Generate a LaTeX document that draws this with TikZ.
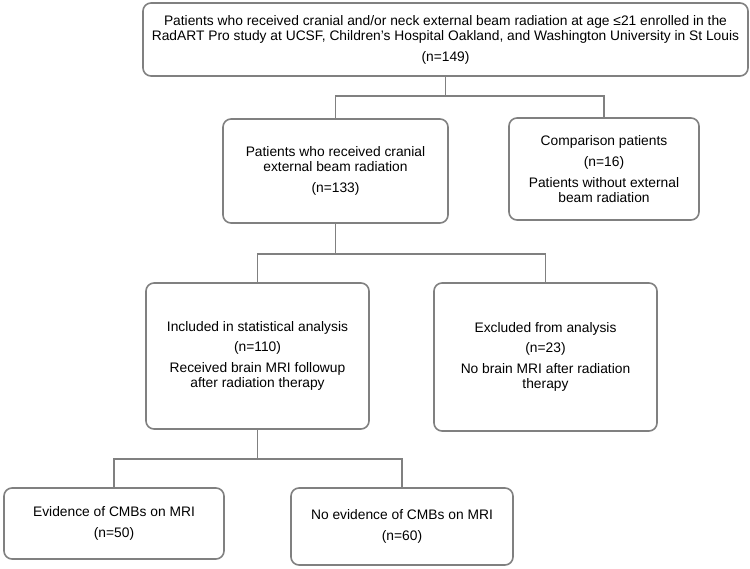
\documentclass[tikz,border=0pt]{standalone}
\usepackage{fontspec}
\setmainfont{Liberation Sans}
\usepackage{tikz}
\usetikzlibrary{calc}
\definecolor{boxgray}{RGB}{128,128,128}
\tikzset{
  flowbox/.style={draw=boxgray, line width=1.6pt, rounded corners=8pt, align=center, inner sep=2pt,
    font=\fontsize{13.8}{15.2}\selectfont},
  link/.style={draw=boxgray, line width=1.6pt}
}

\begin{document}
\begin{tikzpicture}[x=1pt,y=-1pt]
	\useasboundingbox (0,0) rectangle (750,568);
	\node[flowbox, minimum width=605pt, minimum height=73pt] (all) at (445.5,39.5)
		{Patients who received cranial and/or neck external beam radiation at age ≤21 enrolled in the\\
		RadART Pro study at UCSF, Children’s Hospital Oakland, and Washington University in St Louis\\[5.5pt]
		(n=149)};
	\node[flowbox, minimum width=225pt, minimum height=104pt] (cranial) at (335.5,171)
		{Patients who received cranial\\external beam radiation\\[5.5pt](n=133)};
	\node[flowbox, minimum width=190pt, minimum height=102pt] (comp) at (604,169)
		{Comparison patients\\[5.5pt](n=16)\\[5.5pt]Patients without external\\beam radiation};
	\node[flowbox, minimum width=223pt, minimum height=146pt] (incl) at (257.5,356)
		{Included in statistical analysis\\[5.5pt](n=110)\\[5.5pt]Received brain MRI followup\\after radiation therapy};
	\node[flowbox, minimum width=223pt, minimum height=148pt] (excl) at (545.5,357)
		{Excluded from analysis\\[5.5pt](n=23)\\[5.5pt]No brain MRI after radiation\\therapy};
	\node[flowbox, minimum width=220pt, minimum height=71pt] (cmb) at (114,523.5)
		{Evidence of CMBs on MRI\\[5.5pt](n=50)};
	\node[flowbox, minimum width=222pt, minimum height=77pt] (nocmb) at (402,526.5)
		{No evidence of CMBs on MRI\\[5.5pt](n=60)};

	\coordinate (split1) at (445.5,96);
	\coordinate (split2) at (335.5,254);
	\coordinate (split3) at (257.5,459);
	\draw[link] (all.south) -- (split1);
	\draw[link] (cranial.north) |- (split1) -| (comp.north);
	\draw[link] (cranial.south) -- (split2);
	\draw[link] (incl.north) |- (split2) -| (excl.north);
	\draw[link] (incl.south) -- (split3);
	\draw[link] (cmb.north) |- (split3) -| (nocmb.north);
\end{tikzpicture}
\end{document}
